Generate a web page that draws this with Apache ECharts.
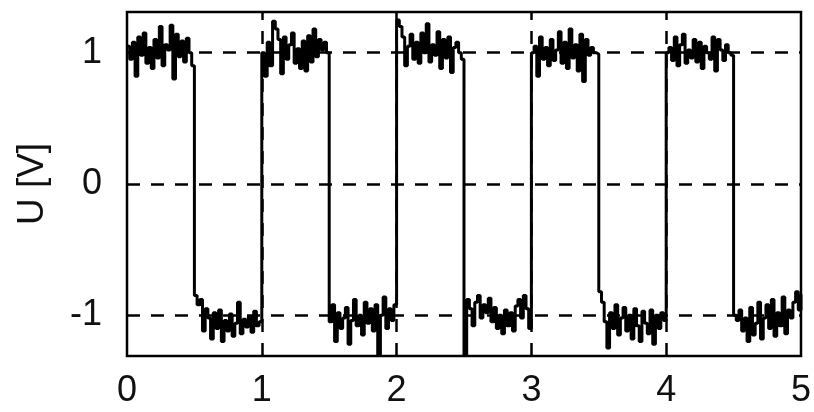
<!DOCTYPE html>
<html>
<head>
<meta charset="utf-8">
<script src="https://cdn.jsdelivr.net/npm/echarts@6/dist/echarts.min.js"></script>
<style>
  html, body { margin: 0; padding: 0; background: #fff; }
  #chart { width: 814px; height: 412px; }
</style>
</head>
<body>
<div id="chart"></div>
<script>
// sample spacing along the time axis
const sampleStep = 0.02

const uValues = [
  // 0.00 - 0.48 high
  1.05, 0.95, 1.08, 0.82, 1.12, 0.98, 1.15, 0.92, 1.04, 0.88, 1.10, 0.96, 1.20, 0.90, 1.06, 1.02, 1.21, 0.80, 1.14, 0.97, 1.09, 0.93, 1.11, 1.00, 0.90,
  // 0.50 - 0.98 low
  -0.85, -0.92, -0.88, -1.12, -0.95, -1.02, -1.18, -0.98, -1.10, -0.96, -1.20, -1.04, -1.12, -0.99, -1.16, -1.06, -0.90, -1.14, -1.03, -1.09, -1.01, -1.13, -0.97, -1.08, -1.05,
  // 1.00 - 1.48 high
  1.00, 0.82, 1.08, 0.90, 1.24, 1.18, 1.10, 0.84, 1.12, 0.95, 1.06, 1.15, 0.92, 1.03, 0.88, 1.09, 0.86, 1.13, 0.93, 1.18, 0.97, 1.10, 1.02, 1.08, 1.00,
  // 1.50 - 1.98 low
  -1.05, -0.92, -1.20, -0.98, -1.10, -1.02, -0.94, -1.22, -1.04, -0.88, -1.08, -1.00, -1.15, -0.90, -1.06, -0.95, -1.12, -0.92, -1.30, -1.00, -0.86, -1.10, -0.95, -1.04, -0.92,
  // 2.00 - 2.48 high
  1.25, 1.20, 1.12, 0.90, 1.05, 1.14, 0.95, 1.08, 0.92, 1.15, 1.00, 1.22, 0.93, 1.06, 0.98, 1.16, 0.88, 1.10, 0.96, 1.12, 0.85, 1.04, 1.08, 1.00, 0.95,
  // 2.50 - 2.98 low
  -1.30, -0.88, -0.95, -1.08, -0.90, -0.85, -1.02, -0.92, -0.98, -0.87, -1.05, -0.94, -1.10, -1.00, -1.14, -0.96, -1.08, -0.98, -1.12, -0.93, -0.88, -1.02, -0.85, -0.95, -1.10,
  // 3.00 - 3.48 high
  1.00, 1.05, 0.82, 1.12, 0.95, 1.04, 0.90, 1.10, 0.94, 1.02, 1.16, 0.92, 1.08, 0.88, 1.18, 0.96, 1.06, 0.86, 1.14, 0.78, 1.10, 0.98, 1.04, 1.00, 0.99,
  // 3.50 - 3.98 low
  -0.82, -0.90, -1.05, -1.25, -0.98, -1.10, -0.92, -1.15, -1.02, -0.94, -1.12, -1.00, -1.18, -0.95, -1.08, -1.20, -0.97, -1.06, -1.14, -0.96, -1.22, -1.00, -1.10, -0.98, -1.04,
  // 4.00 - 4.48 high
  1.00, 1.04, 0.94, 1.12, 0.90, 1.06, 1.14, 0.92, 1.02, 0.96, 1.10, 0.93, 1.08, 0.88, 1.05, 1.00, 0.95, 1.12, 0.86, 1.10, 1.02, 0.94, 1.06, 1.00, 0.98,
  // 4.50 - 5.00 low
  -1.00, -1.04, -0.96, -1.12, -1.02, -1.20, -0.94, -1.15, -1.06, -0.90, -1.18, -1.02, -0.92, -1.10, -0.88, -1.16, -0.98, -1.08, -0.86, -1.14, -0.96, -1.02, -0.90, -0.82, -0.96, -0.84
]

// grid lines and tick labels
const xGridValues = [1, 2, 3, 4]
const yGridValues = [-1, 0, 1]
const xTickLabels = [0, 1, 2, 3, 4, 5]

const points = uValues.map((v, i) => [+(i * sampleStep).toFixed(2), v])

const dashStyle = { color: '#000', width: 2.5, type: [13, 11] }
const labelFont = { color: '#111', fontSize: 36, fontFamily: 'Liberation Sans, Arial, sans-serif' }

const chart = echarts.init(document.getElementById('chart'))
chart.setOption({
  animation: false,
  backgroundColor: '#fff',
  grid: {
    left: 127, right: 6, top: 12, bottom: 56,
    show: true, borderColor: '#000', borderWidth: 2.5, backgroundColor: 'transparent'
  },
  xAxis: {
    type: 'value', min: 0, max: 5, interval: 1,
    axisLine: { show: false },
    axisTick: { show: false },
    splitLine: { show: false },
    axisLabel: {
      ...labelFont, margin: 17,
      customValues: xTickLabels,
      formatter: v => String(v)
    }
  },
  yAxis: {
    type: 'value', min: -1.31, max: 1.31,
    name: 'U [V]', nameLocation: 'middle', nameGap: 76, nameRotate: 90,
    nameTextStyle: { ...labelFont, fontSize: 37 },
    axisLine: { show: false },
    axisTick: { show: false },
    splitLine: { show: false },
    axisLabel: {
      ...labelFont, margin: 25,
      customValues: yGridValues,
      formatter: v => String(Math.round(v))
    }
  },
  series: [{
    type: 'line',
    step: 'end',
    data: points,
    symbol: 'none',
    lineStyle: { color: '#000', width: 3 },
    z: 3,
    markLine: {
      silent: true,
      symbol: 'none',
      label: { show: false },
      lineStyle: dashStyle,
      z: 2,
      data: [
        ...yGridValues.map(v => ({ yAxis: v })),
        ...xGridValues.map(v => ({ xAxis: v }))
      ]
    }
  }]
})
</script>
</body>
</html>
